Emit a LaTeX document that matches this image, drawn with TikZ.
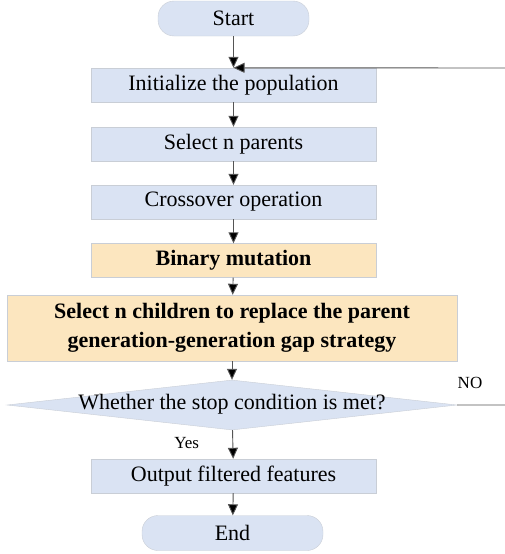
\documentclass[tikz,border=0pt]{standalone}
\usepackage{fontspec}
\setmainfont{Liberation Serif}
\usetikzlibrary{arrows.meta,shapes.geometric}
\definecolor{boxblue}{HTML}{DAE3F3}
\definecolor{boxorange}{HTML}{FCE6BF}
\definecolor{boxline}{HTML}{C9CED6}
\definecolor{arrowline}{HTML}{555555}
\begin{document}
\begin{tikzpicture}[x=1pt,y=-1pt,
    every node/.style={font=\fontsize{22}{29}\selectfont},
    blockbox/.style={draw=boxline,fill=boxblue,minimum width=285pt,minimum height=34pt,inner sep=0pt},
    mutbox/.style={draw=boxline,fill=boxorange,minimum height=34pt,inner sep=0pt,font=\fontsize{22}{29}\selectfont\bfseries},
    termbox/.style={draw=boxline,fill=boxblue,rounded corners=16pt,minimum height=35pt,inner sep=0pt},
    flow/.style={draw=arrowline,line width=0.9pt,-{Triangle[length=11pt,width=10pt,fill=black]}},
    smalltext/.style={font=\fontsize{17}{20}\selectfont}]
  \useasboundingbox (0,0) rectangle (504,554);
  \node[termbox,minimum width=151pt] (start) at (233.5,18.5) {Start}; % start
  \node[blockbox] (init) at (233.5,85) {Initialize the population}; % init
  \node[blockbox] (parents) at (233.5,144) {Select n parents}; % selection
  \node[blockbox] (cross) at (233.5,202) {Crossover operation}; % crossover
  \node[mutbox,minimum width=285pt] (mutate) at (233.5,260.5) {Binary mutation}; % mutation
  \node[mutbox,minimum width=450pt,minimum height=66pt,align=center] (children) at (232,328) {Select n children to replace the parent\\generation-generation gap strategy}; % replacement
  \node[diamond,draw=boxline,fill=boxblue,minimum width=450pt,minimum height=50pt,inner sep=0pt,
        label={[yshift=1pt]center:Whether the stop condition is met?}] (stop) at (232,405) {}; % condition
  \node[blockbox] (output) at (233.5,476) {Output filtered features}; % output
  \node[termbox,minimum width=181pt] (finish) at (232.5,533) {End}; % end
  \coordinate (loopdown) at (508,405);
  \coordinate (loopup) at (508,68);
  \draw[flow] (start) -- (init); % arrows down
  \draw[flow] (init) -- (parents);
  \draw[flow] (parents) -- (cross);
  \draw[flow] (cross) -- (mutate);
  \draw[flow] (mutate) -- (children);
  \draw[flow] (children) -- (stop);
  \draw[flow] (stop) -- node[smalltext,pos=0.45,left=30pt] {Yes} (output);
  \draw[flow] (output) -- (finish);
  \draw[flow] (stop.east) -- (loopdown) -- (loopup) -- (init.north); % back to the start
  \node[smalltext] (nolabel) at (470,383) {NO};
\end{tikzpicture}
\end{document}
